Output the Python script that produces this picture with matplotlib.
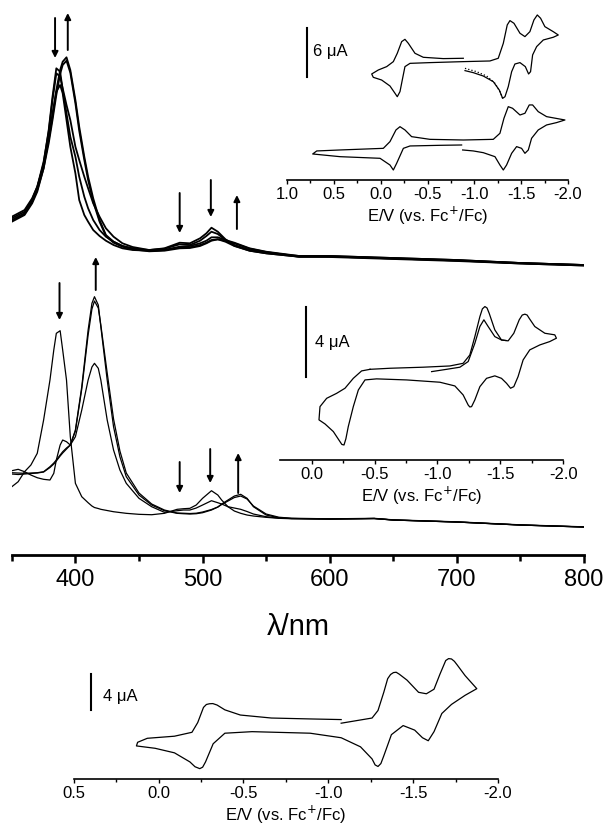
import matplotlib.pyplot as plt
import numpy as np

plt.rcParams['font.family'] = ['Liberation Sans', 'DejaVu Sans']

# ---- UV-vis spectra (wavelength in nm, absorbance in arbitrary units) ----
# upper set of spectra (plotted with an offset)
wl_top = [350, 360, 366, 370, 375, 379, 382, 385, 388, 390, 393, 396, 400, 403, 407,
          410, 414, 419, 424, 430, 437, 445, 458, 470, 482, 490, 498, 503, 507, 512,
          518, 525, 537, 550, 576, 600, 650, 700, 750, 800]
abs_top_1 = [0.85, 0.917, 1.05, 1.167, 1.417, 1.75, 2.083, 2.367, 2.333, 2.15, 1.917, 1.683,
             1.483, 1.283, 1.083, 0.967, 0.85, 0.75, 0.683, 0.633, 0.59, 0.563, 0.55, 0.567,
             0.623, 0.617, 0.667, 0.717, 0.773, 0.733, 0.657, 0.60, 0.55, 0.523, 0.49, 0.49,
             0.47, 0.45, 0.42, 0.40]
abs_top_2 = [0.867, 0.933, 1.057, 1.183, 1.433, 1.733, 2.05, 2.317, 2.283, 2.167, 2.0, 1.85,
             1.583, 1.45, 1.283, 1.167, 1.017, 0.883, 0.767, 0.683, 0.617, 0.58, 0.55, 0.563,
             0.607, 0.60, 0.643, 0.69, 0.733, 0.71, 0.65, 0.593, 0.543, 0.517, 0.483, 0.485,
             0.465, 0.445, 0.42, 0.40]
abs_top_3 = [0.833, 0.90, 1.017, 1.133, 1.367, 1.667, 1.917, 2.133, 2.20, 2.117, 1.85, 1.583,
             1.317, 1.05, 0.90, 0.833, 0.75, 0.69, 0.643, 0.60, 0.567, 0.55, 0.543, 0.55,
             0.577, 0.577, 0.60, 0.623, 0.65, 0.657, 0.633, 0.59, 0.543, 0.517, 0.483, 0.48,
             0.46, 0.44, 0.415, 0.395]
abs_top_4 = [0.883, 0.95, 1.067, 1.183, 1.40, 1.65, 1.883, 2.15, 2.35, 2.433, 2.477, 2.35,
             2.05, 1.783, 1.483, 1.283, 1.067, 0.85, 0.70, 0.633, 0.59, 0.567, 0.543, 0.55,
             0.583, 0.59, 0.617, 0.643, 0.677, 0.677, 0.65, 0.623, 0.567, 0.533, 0.49, 0.49,
             0.47, 0.45, 0.42, 0.40]
abs_top_5 = [0.843, 0.91, 1.033, 1.15, 1.367, 1.617, 1.85, 2.10, 2.31, 2.40, 2.443, 2.323,
             2.017, 1.743, 1.45, 1.25, 1.033, 0.833, 0.69, 0.623, 0.583, 0.557, 0.537, 0.543,
             0.567, 0.57, 0.59, 0.617, 0.643, 0.657, 0.643, 0.617, 0.563, 0.53, 0.483, 0.485,
             0.465, 0.445, 0.415, 0.395]
top_offset = 2.5

# lower set of spectra
wl_bot = [350, 355, 360, 365, 370, 375, 380, 383, 385, 388, 390, 393, 396, 400, 405, 410,
          413, 415, 418, 420, 425, 430, 435, 440, 450, 460, 470, 480, 485, 490, 495, 500,
          507, 512, 515, 520, 525, 530, 535, 540, 550, 560, 570, 600, 635, 650, 700, 750, 800]
abs_bot_1 = [0.683, 0.733, 0.833, 0.90, 1.017, 1.35, 1.75, 2.05, 2.217, 2.243, 2.05, 1.75,
             1.183, 0.717, 0.583, 0.523, 0.49, 0.475, 0.465, 0.457, 0.445, 0.433, 0.425,
             0.417, 0.407, 0.403, 0.417, 0.457, 0.463, 0.467, 0.50, 0.567, 0.643, 0.60, 0.55,
             0.483, 0.44, 0.417, 0.40, 0.39, 0.377, 0.367, 0.363, 0.36, 0.365, 0.35, 0.33,
             0.30, 0.28]
abs_bot_2 = [0.843, 0.857, 0.833, 0.80, 0.773, 0.757, 0.75, 0.817, 0.95, 1.10, 1.15, 1.133,
             1.10, 1.183, 1.45, 1.75, 1.88, 1.917, 1.867, 1.75, 1.35, 1.05, 0.85, 0.717,
             0.567, 0.483, 0.427, 0.443, 0.45, 0.45, 0.47, 0.50, 0.543, 0.523, 0.51, 0.483,
             0.47, 0.457, 0.435, 0.41, 0.383, 0.37, 0.365, 0.36, 0.365, 0.35, 0.33, 0.30, 0.28]
abs_bot_3 = [0.823, 0.82, 0.817, 0.82, 0.823, 0.833, 0.883, 0.92, 0.95, 1.00, 1.033, 1.07,
             1.10, 1.25, 1.683, 2.25, 2.517, 2.583, 2.50, 2.283, 1.75, 1.283, 0.983, 0.783,
             0.60, 0.50, 0.443, 0.417, 0.413, 0.41, 0.413, 0.423, 0.45, 0.48, 0.51, 0.55,
             0.59, 0.607, 0.567, 0.483, 0.40, 0.373, 0.365, 0.36, 0.365, 0.35, 0.33, 0.30, 0.28]
abs_bot_4 = [0.81, 0.805, 0.81, 0.815, 0.82, 0.83, 0.875, 0.91, 0.94, 0.99, 1.02, 1.06,
             1.10, 1.24, 1.66, 2.20, 2.46, 2.54, 2.47, 2.30, 1.82, 1.36, 1.04, 0.82, 0.62,
             0.51, 0.45, 0.42, 0.418, 0.415, 0.418, 0.43, 0.455, 0.48, 0.505, 0.54, 0.575,
             0.59, 0.56, 0.49, 0.41, 0.378, 0.368, 0.362, 0.367, 0.352, 0.332, 0.302, 0.282]

# ---- cyclic voltammograms (E in V vs Fc+/Fc, current in uA incl. offsets) ----
# upper inset, trace 1
cv1a_E = [-0.882, -0.668, -0.455, -0.366, -0.295, -0.259, -0.224, -0.177, -0.135, -0.064,
          0.025, 0.096, 0.079, -0.010, -0.099, -0.153, -0.177, -0.206, -0.234, -0.259,
          -0.313, -0.526, -0.882, -1.166, -1.255, -1.309, -1.351, -1.380, -1.423, -1.487,
          -1.540, -1.593, -1.636, -1.672, -1.707, -1.753, -1.842, -1.896, -1.842, -1.736,
          -1.665, -1.622, -1.600, -1.579, -1.544, -1.487, -1.433, -1.398, -1.362, -1.327,
          -1.302, -1.266, -1.202, -1.095, -0.989, -0.900]
cv1a_I = [14.89, 14.85, 15.01, 15.50, 16.72, 17.21, 16.93, 15.50, 14.48, 13.87, 13.46, 12.97,
          12.56, 12.23, 11.50, 10.60, 10.19, 10.81, 12.44, 13.87, 14.27, 14.36, 14.48, 14.56,
          14.89, 16.72, 18.97, 19.50, 19.17, 17.95, 17.54, 18.15, 19.58, 20.19, 19.79, 18.76,
          18.15, 17.74, 17.46, 17.13, 16.32, 15.30, 13.25, 12.97, 13.87, 14.36, 14.19, 13.25,
          11.42, 10.19, 9.99, 11.01, 12.03, 12.72, 13.13, 13.38]
# dotted overlay of trace 1
cv1a_sim_E = [-0.900, -1.024, -1.131, -1.220, -1.273, -1.309]
cv1a_sim_I = [13.66, 13.25, 12.72, 11.83, 10.81, 9.79]
# upper inset, trace 2
cv1b_E = [-0.864, -0.633, -0.313, -0.242, -0.170, -0.135, -0.099, 0.007, 0.434, 0.726,
          0.683, 0.434, -0.028, -0.099, -0.163, -0.206, -0.259, -0.330, -0.526, -0.882,
          -1.202, -1.273, -1.316, -1.362, -1.408, -1.487, -1.540, -1.586, -1.622, -1.682,
          -1.771, -1.967, -1.878, -1.771, -1.682, -1.611, -1.576, -1.540, -1.504, -1.451,
          -1.398, -1.344, -1.309, -1.273, -1.220, -1.095, -0.989, -0.875]
cv1b_I = [4.28, 4.24, 4.16, 3.87, 2.03, 1.22, 1.83, 2.65, 2.85, 3.18, 3.55, 3.67, 3.87, 4.69,
          6.12, 6.52, 6.12, 5.30, 4.97, 4.89, 4.97, 5.71, 7.55, 8.97, 8.77, 7.95, 8.16, 9.18,
          9.18, 8.36, 7.75, 7.34, 7.02, 6.73, 6.12, 5.10, 3.67, 3.26, 3.87, 4.08, 3.26, 1.83,
          1.22, 1.83, 2.85, 3.34, 3.55, 3.67]

# middle inset
cv2_E = [-0.464, -0.622, -0.887, -1.099, -1.205, -1.258, -1.298, -1.338, -1.358, -1.378,
         -1.395, -1.412, -1.457, -1.510, -1.563, -1.608, -1.651, -1.675, -1.696, -1.714,
         -1.730, -1.775, -1.855, -1.934, -1.947, -1.894, -1.815, -1.735, -1.682, -1.642,
         -1.608, -1.582, -1.550, -1.510, -1.457, -1.391, -1.338, -1.298, -1.272, -1.258,
         -1.245, -1.205, -1.139, -1.020, -0.755, -0.516, -0.424, -0.371, -0.331, -0.291,
         -0.272, -0.257, -0.240, -0.225, -0.172, -0.106, -0.058, -0.066, -0.119, -0.198,
         -0.265, -0.331, -0.397, -0.464]
cv2_I = [5.13, 5.19, 5.25, 5.32, 5.47, 5.94, 6.98, 8.11, 8.55, 8.68, 8.60, 8.30, 7.36, 6.79,
         6.74, 7.17, 7.93, 8.20, 8.25, 8.20, 8.02, 7.55, 7.17, 7.08, 6.89, 6.70, 6.51, 6.23,
         5.66, 4.72, 4.15, 4.06, 4.34, 4.62, 4.76, 4.62, 4.15, 3.40, 3.02, 3.00, 3.11, 3.68,
         4.19, 4.40, 4.53, 4.59, 4.53, 3.96, 3.02, 1.89, 1.20, 0.85, 0.88, 1.04, 1.61, 2.04,
         2.27, 3.02, 3.49, 3.77, 4.06, 4.62, 5.04, 5.13]
cv2_first_E = [-0.954, -1.073, -1.179, -1.245, -1.298, -1.338, -1.370, -1.404, -1.457,
               -1.510, -1.545]
cv2_first_I = [5.00, 5.13, 5.25, 5.57, 6.60, 7.55, 7.93, 7.55, 6.98, 6.79, 6.76]

# bottom panel
cv3_E = [-1.076, -1.258, -1.293, -1.327, -1.350, -1.367, -1.384, -1.400, -1.418, -1.464,
         -1.532, -1.578, -1.623, -1.658, -1.692, -1.709, -1.726, -1.743, -1.760, -1.806,
         -1.875, -1.806, -1.726, -1.669, -1.623, -1.589, -1.555, -1.509, -1.441, -1.372,
         -1.327, -1.310, -1.293, -1.276, -1.258, -1.190, -1.076, -0.893, -0.551, -0.391,
         -0.322, -0.277, -0.260, -0.243, -0.215, -0.185, -0.094, 0.020, 0.130, 0.123, 0.066,
         -0.094, -0.197, -0.231, -0.265, -0.282, -0.300, -0.320, -0.345, -0.391, -0.482,
         -0.665, -0.893, -1.076]
cv3_I = [6.14, 6.71, 7.54, 9.54, 11.04, 11.50, 11.71, 11.75, 11.54, 10.88, 9.54, 9.38, 9.88,
         11.54, 13.04, 13.25, 13.21, 12.95, 12.54, 11.38, 9.94, 9.21, 8.21, 7.21, 5.21, 4.21,
         4.54, 5.38, 5.88, 4.88, 2.54, 1.70, 1.38, 1.55, 2.21, 3.54, 4.54, 5.04, 5.21, 5.04,
         3.88, 1.88, 1.30, 1.14, 1.35, 1.88, 2.88, 3.38, 3.64, 4.04, 4.48, 4.71, 5.14, 6.21,
         7.88, 8.20, 8.28, 8.30, 8.14, 7.61, 7.04, 6.71, 6.61, 6.54]

fig = plt.figure(figsize=(6.03, 8.32), dpi=100)

# main spectra axes
ax = fig.add_axes([0.0196, 0.3329, 0.9490, 0.6671])
ax.patch.set_alpha(0)
for vals in [abs_top_1, abs_top_2, abs_top_3, abs_top_4, abs_top_5]:
    ax.plot(wl_top, np.array(vals) + top_offset, color='black', lw=1.3)
for vals in [abs_bot_1, abs_bot_2, abs_bot_3, abs_bot_4]:
    ax.plot(wl_bot, vals, color='black', lw=0.9)
ax.set_xlim(350, 800)
ax.set_ylim(0, 5.55)
for s in ['left', 'right', 'top']:
    ax.spines[s].set_visible(False)
ax.spines['bottom'].set_linewidth(2.0)
ax.set_yticks([])
ax.set_xticks([400, 500, 600, 700, 800])
ax.set_xticks([350, 450, 550, 650, 750], minor=True)
ax.tick_params(axis='x', which='major', length=6, width=1.8, labelsize=17, pad=4)
ax.tick_params(axis='x', which='minor', length=4, width=1.8)
ax.set_xlabel('λ/nm', fontsize=21, labelpad=16)

# arrows marking the spectral changes: (wavelength, start, end)
arrows = [(384, 5.37, 4.97), (394, 5.05, 5.42), (482, 3.62, 3.22), (506.5, 3.75, 3.38),
          (527, 3.26, 3.60),
          (387.5, 2.72, 2.35), (416, 2.65, 2.98), (482, 0.93, 0.62), (506, 1.06, 0.72),
          (528, 0.62, 1.02)]
for x, y0, y1 in arrows:
    ax.annotate('', xy=(x, y1), xytext=(x, y0),
                arrowprops=dict(arrowstyle='-|>', color='black', lw=1.4,
                                mutation_scale=9, shrinkA=0, shrinkB=0))


def style_cv(a, xlim, ylim, major, minor, fs=12):
    a.patch.set_alpha(0)
    a.set_xlim(*xlim)
    a.set_ylim(*ylim)
    for s in ['left', 'right', 'top']:
        a.spines[s].set_visible(False)
    a.spines['bottom'].set_linewidth(1.2)
    a.set_yticks([])
    a.set_xticks(major)
    a.set_xticklabels(['%.1f' % v for v in major])
    a.set_xticks(minor, minor=True)
    a.tick_params(axis='x', which='major', length=3, width=1.0, labelsize=fs, pad=2)
    a.tick_params(axis='x', which='minor', length=2, width=1.0)
    a.set_xlabel('E/V (vs. Fc$^{+}$/Fc)', fontsize=fs, labelpad=2)


# upper inset
ax1 = fig.add_axes([0.4760, 0.7837, 0.4660, 0.2043])
ax1.plot(cv1a_E, cv1a_I, color='black', lw=0.9)
ax1.plot(cv1a_sim_E, cv1a_sim_I, color='black', lw=0.9, ls=':')
ax1.plot(cv1b_E, cv1b_I, color='black', lw=0.9)
style_cv(ax1, (1.0, -2.0), (0, 20.8), [1.0, 0.5, 0.0, -0.5, -1.0, -1.5, -2.0],
         [0.75, 0.25, -0.25, -0.75, -1.25, -1.75])
ax1.plot([0.787, 0.787], [12.6, 18.6], color='black', lw=1.5)
ax1.text(0.72, 15.7, '6 μA', fontsize=12, va='center', ha='left')

# middle inset
ax2 = fig.add_axes([0.4648, 0.4471, 0.4690, 0.1923])
ax2.plot(cv2_E, cv2_I, color='black', lw=0.9)
ax2.plot(cv2_first_E, cv2_first_I, color='black', lw=0.9)
style_cv(ax2, (0.25, -2.0), (0, 9.05), [0.0, -0.5, -1.0, -1.5, -2.0],
         [-0.25, -0.75, -1.25, -1.75])
ax2.plot([0.048, 0.048], [4.68, 8.68], color='black', lw=1.5)
ax2.text(-0.026, 6.62, '4 μA', fontsize=12, va='center', ha='left')

# bottom panel
ax3 = fig.add_axes([0.1221, 0.0637, 0.7038, 0.1671])
ax3.plot(cv3_E, cv3_I, color='black', lw=0.9)
style_cv(ax3, (0.5, -2.0), (0, 15.3), [0.5, 0.0, -0.5, -1.0, -1.5, -2.0],
         [0.25, -0.25, -0.75, -1.25, -1.75])
ax3.plot([0.398, 0.398], [7.54, 11.54], color='black', lw=1.5)
ax3.text(0.329, 9.04, '4 μA', fontsize=12, va='center', ha='left')

fig.savefig('out.png', dpi=100)
